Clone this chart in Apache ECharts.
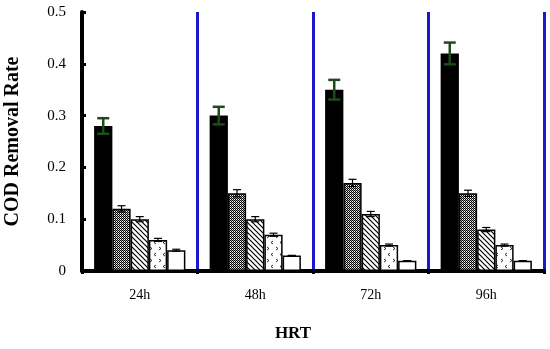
<!DOCTYPE html>
<html><head><meta charset="utf-8">
<script src="https://cdn.jsdelivr.net/npm/echarts@6/dist/echarts.min.js"></script>
<style>html,body{margin:0;padding:0;background:#fff}#c{width:550px;height:349px}</style>
</head><body><div id="c"></div>
<script>
const categories = ['24h', '48h', '72h', '96h'];
const s1 = [0.28, 0.30, 0.35, 0.42];
const e1 = [0.015, 0.017, 0.019, 0.021];
const s2 = [0.12, 0.15, 0.17, 0.15];
const e2 = [0.006, 0.007, 0.007, 0.006];
const s3 = [0.10, 0.10, 0.11, 0.08];
const e3 = [0.005, 0.005, 0.005, 0.004];
const s4 = [0.06, 0.07, 0.05, 0.05];
const e4 = [0.003, 0.003, 0.002, 0.002];
const s5 = [0.04, 0.03, 0.02, 0.02];
const e5 = [0.002, 0.0, 0.0, 0.0];
const yTicks = [0, 0.1, 0.2, 0.3, 0.4, 0.5];

function pat(w, h, draw) {
  const c = document.createElement('canvas'); c.width = w; c.height = h;
  const x = c.getContext('2d'); x.fillStyle = '#fff'; x.fillRect(0, 0, w, h); draw(x); return c;
}
const mesh = pat(2, 2, x => { x.fillStyle = '#000'; x.fillRect(0, 0, 1, 1); x.fillRect(1, 1, 1, 1); x.fillStyle = '#999'; x.fillRect(1, 0, 1, 1); });
const hatch = pat(5, 5, x => {
  x.strokeStyle = '#000'; x.lineWidth = 1.2;
  x.beginPath(); x.moveTo(-1, -1); x.lineTo(6, 6); x.moveTo(-1, 4); x.lineTo(1, 6); x.moveTo(4, -1); x.lineTo(6, 1); x.stroke();
});
const dots = pat(9, 12, x => {
  x.strokeStyle = '#000'; x.lineWidth = 0.8;
  x.beginPath(); x.moveTo(3, 1); x.lineTo(1, 2.5); x.lineTo(3, 4); x.stroke();
  x.beginPath(); x.moveTo(6, 7); x.lineTo(8, 8.5); x.lineTo(6, 10); x.stroke();
});

const vals = [s1, s2, s3, s4, s5];
const errs = [e1, e2, e3, e4, e5];
const fills = ['#000', {image: mesh, repeat: 'repeat'}, {image: hatch, repeat: 'repeat'}, {image: dots, repeat: 'repeat'}, '#fff'];
const GAP = 0.21;

const series = vals.map((v, i) => ({
  type: 'bar', data: v, barGap: 0, barCategoryGap: (GAP * 100) + '%',
  itemStyle: {color: fills[i], borderColor: '#000', borderWidth: 1.5},
  z: 2
}));

const errData = [];
vals.forEach((v, si) => v.forEach((val, ci) => errData.push([ci, val, errs[si][ci], si])));
series.push({
  type: 'custom', z: 5,
  data: errData,
  renderItem: (params, api) => {
    const ci = api.value(0), val = api.value(1), er = api.value(2), si = api.value(3);
    const band = api.size([1, 0])[0];
    const bw = band * (1 - GAP) / 5;
    const cx = api.coord([ci, val])[0] + (si - 2) * bw;
    const yt = api.coord([ci, val + er])[1], yb = api.coord([ci, val - er])[1];
    const col = si === 0 ? '#1b4d1b' : '#000';
    const cap = si === 0 ? 6 : 4;
    const lw = si === 0 ? 2.5 : 1.2;
    return {type: 'group', children: [
      {type: 'line', shape: {x1: cx, y1: yt, x2: cx, y2: yb}, style: {stroke: col, lineWidth: lw}},
      {type: 'line', shape: {x1: cx - cap, y1: yt, x2: cx + cap, y2: yt}, style: {stroke: col, lineWidth: lw}},
      {type: 'line', shape: {x1: cx - cap, y1: yb, x2: cx + cap, y2: yb}, style: {stroke: col, lineWidth: lw}}
    ]};
  }
});

const chart = echarts.init(document.getElementById('c'), null, {renderer: 'canvas'});
chart.setOption({
  animation: false,
  grid: {left: 82, right: 6, top: 12, bottom: 78, outerBoundsMode: 'none', containLabel: false},
  xAxis: {
    type: 'category', data: categories,
    name: 'HRT', nameLocation: 'middle', nameGap: 54, nameMoveOverlap: false,
    nameTextStyle: {fontFamily: 'Liberation Serif', fontWeight: 'bold', fontSize: 17, color: '#000', padding: [0, 40, 0, 0]},
    axisLine: {lineStyle: {color: '#000', width: 4}},
    axisTick: {show: true, length: 3, lineStyle: {color: '#000', width: 3}},
    axisLabel: {fontFamily: 'Liberation Serif', fontSize: 14, color: '#000', margin: 17},
    splitLine: {show: true, lineStyle: {color: '#1a1acc', width: 3}}
  },
  yAxis: {
    type: 'value', min: 0, max: 0.5, interval: 0.1,
    name: 'COD Removal Rate', nameLocation: 'middle', nameGap: 59, nameMoveOverlap: false,
    nameTextStyle: {fontFamily: 'Liberation Serif', fontWeight: 'bold', fontSize: 20, color: '#000'},
    axisLine: {show: true, lineStyle: {color: '#000', width: 4}},
    axisTick: {show: true, inside: true, length: 4, lineStyle: {color: '#000', width: 3}},
    axisLabel: {fontFamily: 'Liberation Serif', fontSize: 15, color: '#000', margin: 16,
      formatter: v => v === 0 ? '0' : v.toFixed(1)},
    splitLine: {show: false}
  },
  series: series
});
</script></body></html>
